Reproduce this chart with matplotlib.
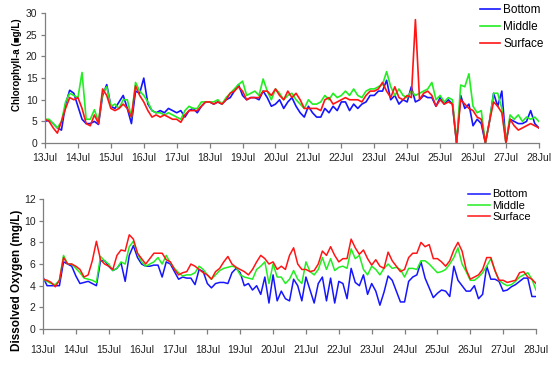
import matplotlib
matplotlib.use('Agg')
import matplotlib.pyplot as plt
import numpy as np

plt.rcParams['font.family'] = ['Liberation Sans', 'DejaVu Sans']

# readings every 3 hours, 13 Jul 00:00 .. 28 Jul 00:00
samples_per_day = 8
first_day = 13
day_ticks = list(range(13, 29))
day_labels = ['%dJul' % d for d in day_ticks]
series_names = ['Bottom', 'Middle', 'Surface']

chl_bottom = [
    5.0, 5.3, 4.5, 3.5, 3.0, 9.0, 12.2, 11.5,
    8.5, 5.5, 4.5, 4.5, 5.0, 4.3, 11.0, 13.5,
    8.5, 8.0, 9.5, 11.0, 8.0, 4.5, 12.0, 11.5,
    15.0, 9.0, 7.5, 7.0, 7.5, 7.0, 8.0, 7.5,
    7.0, 7.5, 6.0, 7.5, 8.0, 7.0, 8.5, 9.5,
    9.5, 9.0, 9.5, 9.0, 10.0, 10.5, 12.0, 13.5,
    11.0, 10.0, 10.5, 10.5, 10.0, 12.0, 10.5, 8.5,
    9.0, 10.0, 8.0, 9.5, 10.5, 8.5, 7.0, 6.0,
    8.5, 7.0, 6.0, 6.0, 8.0, 7.0, 8.5, 7.5,
    9.5, 9.5, 7.5, 9.0, 8.0, 9.0, 9.5, 11.0,
    11.0, 12.0, 12.0, 14.5, 10.0, 11.0, 9.0, 10.0,
    9.5, 13.0, 9.5, 10.0, 11.0, 10.5, 10.5, 8.5,
    10.5, 9.0, 10.0, 9.0, 0.0, 11.0, 8.0, 9.0,
    4.0, 5.5, 4.5, 0.0, 5.0, 11.5, 8.5, 12.0,
    0.0, 5.5, 5.0, 4.5, 4.5, 5.0, 7.5, 4.5,
    3.5]
chl_middle = [
    5.5, 5.5, 4.5, 3.5, 5.0, 9.5, 11.5, 11.0,
    10.5, 16.3, 5.5, 5.5, 7.7, 5.0, 11.5, 13.0,
    8.5, 9.0, 8.0, 10.0, 10.0, 6.0, 14.0, 12.0,
    11.0, 9.5, 7.5, 7.0, 7.0, 6.5, 7.0, 6.5,
    6.0, 5.5, 7.5, 8.5, 8.0, 8.0, 9.5, 9.5,
    9.5, 9.5, 10.0, 9.0, 10.5, 11.5, 12.5, 13.5,
    14.3, 11.0, 11.5, 12.0, 11.0, 14.8, 12.0, 10.0,
    12.5, 11.5, 10.0, 11.0, 11.5, 10.0, 9.0, 8.0,
    10.0, 9.0, 9.0, 9.5, 11.0, 10.0, 11.5, 10.5,
    11.0, 12.0, 11.0, 12.5, 11.0, 10.5, 12.0, 12.5,
    12.5, 13.0, 13.5, 16.5, 13.0, 11.0, 12.5, 11.0,
    10.5, 12.0, 11.0, 11.5, 12.0, 12.5, 14.0, 10.0,
    11.0, 9.5, 10.5, 10.0, 0.0, 13.4, 13.0, 16.0,
    8.5, 7.0, 7.5, 0.0, 5.0, 11.5, 11.5, 8.0,
    0.0, 6.5, 5.5, 6.5, 5.0, 6.0, 5.5, 6.0,
    5.0]
chl_surface = [
    5.5, 5.0, 3.5, 2.3, 5.0, 8.0, 10.5, 10.0,
    10.5, 8.0, 4.5, 4.0, 6.5, 4.5, 12.5, 11.0,
    8.0, 7.5, 8.0, 9.0, 8.0, 6.0, 13.2, 11.0,
    9.5, 7.5, 6.0, 6.5, 6.0, 6.5, 6.0, 5.5,
    5.5, 4.8, 6.5, 7.5, 7.5, 7.5, 8.5, 9.5,
    9.5, 9.0, 9.5, 9.0, 10.0, 11.5, 12.0, 13.0,
    12.0, 10.0, 10.5, 10.5, 10.5, 12.0, 12.0, 11.0,
    12.5, 11.0, 10.0, 12.0, 10.5, 11.5, 10.0, 8.0,
    8.0, 8.0, 8.0, 7.5, 10.0, 10.5, 9.0, 9.5,
    10.0, 10.5, 10.0, 10.0, 10.0, 9.5, 11.0, 12.0,
    12.0, 12.5, 14.0, 12.0, 10.5, 13.0, 10.5, 10.0,
    11.0, 10.5, 28.5, 10.0, 11.5, 12.0, 11.0, 8.5,
    10.0, 9.0, 9.5, 9.0, 0.0, 10.0, 9.0, 8.0,
    7.5, 6.0, 5.5, 0.0, 5.0, 9.5, 8.5, 7.0,
    0.0, 5.5, 4.0, 3.0, 3.5, 4.0, 4.5, 4.0,
    3.5]

do_bottom = [
    4.8, 4.0, 4.0, 4.0, 4.0, 6.2, 6.0, 5.8,
    4.9, 4.2, 4.3, 4.4, 4.2, 4.0, 6.3, 6.3,
    5.8, 5.4, 5.6, 6.1, 4.4, 6.8, 7.7, 6.6,
    6.0, 5.8, 5.8, 5.9, 5.9, 4.8, 6.2, 6.0,
    5.3, 4.6, 4.8, 4.7, 4.7, 4.1, 5.5, 5.3,
    4.2, 3.8, 4.2, 4.3, 4.3, 4.2, 5.2, 5.6,
    5.2, 4.0, 4.2, 3.6, 4.0, 3.2, 4.8, 2.4,
    5.0, 2.6, 3.5, 2.8, 2.6, 4.6, 4.0, 2.6,
    4.8, 3.6, 2.4, 4.2, 4.8, 2.6, 4.7, 2.4,
    4.4, 4.2, 2.8, 5.6, 4.3, 4.0, 5.0, 3.2,
    4.2, 3.5, 2.2, 3.4, 4.9, 4.5, 3.5, 2.5,
    2.5, 4.4, 4.8, 5.0, 6.2, 4.7, 3.8, 2.9,
    3.3, 3.6, 3.5, 3.0, 5.8, 4.5, 4.0, 3.5,
    3.5, 4.0, 2.8, 3.2, 5.8, 4.6, 4.6, 4.4,
    3.5, 3.6, 3.9, 4.1, 4.4, 4.7, 4.7, 3.0,
    3.0]
do_middle = [
    4.6, 4.4, 4.2, 4.1, 4.5, 6.8, 6.0, 6.0,
    5.6, 5.2, 4.7, 4.6, 4.5, 4.3, 6.7, 6.3,
    6.0, 5.4, 5.6, 6.2, 6.0, 7.6, 8.1, 7.0,
    6.2, 5.8, 6.0, 6.2, 6.6, 6.0, 6.8, 6.1,
    5.6, 5.2, 4.9, 5.0, 5.0, 5.2, 5.8, 5.5,
    5.0, 4.6, 5.0, 5.4, 5.6, 5.7, 5.8, 5.7,
    5.0, 4.8, 4.7, 4.6, 5.5, 5.8, 6.2, 4.2,
    6.0, 4.8, 4.8, 4.2, 4.6, 5.4, 4.6, 4.2,
    6.2, 5.3, 5.0, 5.5, 6.6, 5.5, 6.5, 5.4,
    5.7, 5.8, 5.6, 7.4, 6.5, 6.8, 5.5, 5.0,
    5.8, 5.5, 5.0, 5.6, 6.0, 5.6, 5.7, 5.5,
    4.8, 5.6, 5.6, 5.5, 6.3, 6.3, 6.0, 5.6,
    5.2, 5.3, 5.5, 6.0, 6.6, 7.5, 6.0, 5.3,
    4.5, 4.5, 4.8, 5.2, 5.8, 6.5, 5.4, 4.5,
    4.2, 4.0, 4.1, 4.4, 4.8, 5.0, 5.2, 4.6,
    3.6]
do_surface = [
    4.6, 4.5, 4.3, 3.9, 4.5, 6.6, 6.0, 6.0,
    5.8, 5.5, 4.8, 5.0, 6.3, 8.1, 6.4, 6.0,
    5.8, 5.5, 6.8, 7.3, 7.2, 8.7, 8.3, 7.0,
    6.5, 6.0, 6.5, 7.0, 7.0, 7.0, 6.4, 6.2,
    5.5, 5.0, 5.2, 5.3, 6.0, 5.8, 5.5, 5.2,
    5.0, 4.6, 5.3, 5.6, 6.2, 6.7, 6.0, 5.7,
    5.5, 5.3, 5.0, 5.5, 6.2, 6.8, 6.5, 6.0,
    6.2, 5.5, 5.8, 5.5, 6.8, 7.5, 6.0, 5.5,
    5.5, 5.3, 5.4, 6.0, 7.2, 6.8, 7.6, 6.8,
    6.2, 6.5, 6.5, 8.3, 7.5, 6.9, 7.3, 6.5,
    5.9, 6.4, 5.8, 5.6, 7.1, 6.3, 5.8, 5.3,
    5.5, 6.6, 7.0, 7.0, 8.0, 7.6, 7.8, 6.5,
    6.5, 6.2, 5.8, 6.3, 7.3, 8.0, 7.2, 5.5,
    4.6, 4.8, 5.0, 5.5, 6.6, 6.6, 5.4, 4.5,
    4.5, 4.3, 4.4, 4.5, 5.2, 5.3, 4.8, 4.6,
    4.2]

colors = ['#1515ff', '#22ee22', '#ff1515']
axis_grey = '#7f7f7f'


def style_axis(ax, ymax, ystep, xpad):
    ax.set_xlim(day_ticks[0], day_ticks[-1])
    ax.set_ylim(0, ymax)
    ax.set_xticks(day_ticks)
    ax.set_xticklabels(day_labels)
    ax.set_yticks(np.arange(0, ymax + 0.1, ystep))
    for side in ['top', 'right']:
        ax.spines[side].set_visible(False)
    for side in ['left', 'bottom']:
        ax.spines[side].set_color(axis_grey)
        ax.spines[side].set_linewidth(0.9)
    ax.tick_params(axis='x', direction='out', length=3.5, width=0.9, color=axis_grey,
                   pad=xpad, labelsize=7.5, labelcolor='#222222')
    ax.tick_params(axis='y', direction='out', length=2.6, width=0.9, color=axis_grey,
                   pad=2.8, labelsize=7.5, labelcolor='#222222')


fig = plt.figure(figsize=(5.59, 3.65), dpi=100)

# chlorophyll panel
ax1 = fig.add_axes([0.0805, 0.608, 0.8835, 0.356])
x_chl = first_day + np.arange(len(chl_bottom)) / samples_per_day
for vals, c, name in zip([chl_bottom, chl_middle, chl_surface], colors, series_names):
    ax1.plot(x_chl, vals, color=c, lw=1.2, label=name)
style_axis(ax1, 30, 5, 3.5)
fig.legend(*ax1.get_legend_handles_labels(), loc='upper left', bbox_to_anchor=(0.859, 0.99),
           frameon=False, fontsize=8.5, handlelength=1.7, handletextpad=0.25,
           labelspacing=0.45, borderpad=0, borderaxespad=0)
fig.text(0.031, 1 - 65 / 365, 'Chlorophyll-a (\u25a0g/L)', rotation=90, ha='center',
         va='center', fontsize=7, fontweight='bold')

# dissolved oxygen panel
ax2 = fig.add_axes([0.0769, 0.0986, 0.882, 0.356])
x_do = first_day + np.arange(len(do_bottom)) / samples_per_day
for vals, c, name in zip([do_bottom, do_middle, do_surface], colors, series_names):
    ax2.plot(x_do, vals, color=c, lw=1.1, label=name)
style_axis(ax2, 12, 2, 8)
fig.legend(*ax2.get_legend_handles_labels(), loc='upper left', bbox_to_anchor=(0.837, 0.481),
           frameon=False, fontsize=8, handlelength=2.0, handletextpad=0.18,
           labelspacing=0.12, borderpad=0, borderaxespad=0)
fig.text(0.030, 1 - 280 / 365, 'Dissolved Oxygen (mg/L)', rotation=90, ha='center',
         va='center', fontsize=8.5, fontweight='bold')

plt.savefig('out.png', dpi=100)
